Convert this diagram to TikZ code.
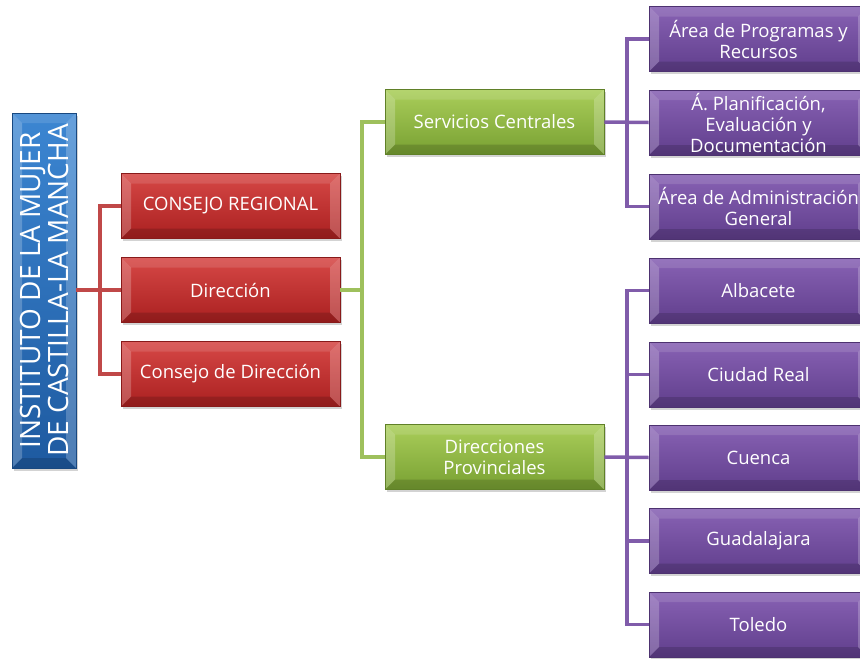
\documentclass[tikz,border=0pt]{standalone}
\usepackage{fontspec}
\setmainfont{Open Sans}
\usetikzlibrary{shadows,calc}
\definecolor{redA}{RGB}{214,72,70}
\definecolor{redB}{RGB}{170,32,32}
\definecolor{redL}{RGB}{192,72,72}
\definecolor{grnA}{RGB}{170,206,90}
\definecolor{grnB}{RGB}{120,160,50}
\definecolor{grnL}{RGB}{158,192,92}
\definecolor{purA}{RGB}{136,98,180}
\definecolor{purB}{RGB}{96,62,140}
\definecolor{purL}{RGB}{128,92,170}
\definecolor{bluA}{RGB}{60,134,210}
\definecolor{bluB}{RGB}{30,90,160}
\tikzset{
  bevel/.style={path picture={
    \fill[white,opacity=0.22] (path picture bounding box.north west) -- ++(10,10) -- ($(path picture bounding box.south west)+(10,-10)$) -- (path picture bounding box.south west) -- cycle;
    \fill[white,opacity=0.22] (path picture bounding box.north east) -- ++(-10,10) -- ($(path picture bounding box.south east)+(-10,-10)$) -- (path picture bounding box.south east) -- cycle;
    \fill[white,opacity=0.12] (path picture bounding box.north west) -- ++(10,10) -- ($(path picture bounding box.north east)+(-10,10)$) -- (path picture bounding box.north east) -- cycle;
    \fill[black,opacity=0.15] (path picture bounding box.south west) -- ++(10,-10) -- ($(path picture bounding box.south east)+(-10,-10)$) -- (path picture bounding box.south east) -- cycle;
  }},
  box/.style={minimum width=219pt, minimum height=65pt, inner sep=2pt, align=center,
    text=white, font=\fontsize{18.5}{21}\selectfont, bevel,
    drop shadow={shadow xshift=2pt, shadow yshift=-2.5pt, opacity=0.35}},
  redbox/.style={box, top color=redA, bottom color=redB, draw=redB!80!black, line width=0.6pt},
  grnbox/.style={box, top color=grnA, bottom color=grnB, draw=grnB!80!black, line width=0.6pt},
  purbox/.style={box, top color=purA, bottom color=purB, draw=purB!80!black, line width=0.6pt},
  redln/.style={draw=redL, line width=3.5pt},
  grnln/.style={draw=grnL, line width=3.5pt},
  purln/.style={draw=purL, line width=3.5pt},
}
\begin{document}
\begin{tikzpicture}[x=1pt,y=-1pt]
\useasboundingbox (0,0) rectangle (860,659);
\begin{scope}
\clip (0,0) rectangle (860,659);
% title
\node[minimum width=64pt, minimum height=355pt, top color=bluA, bottom color=bluB, draw=bluB!80!black, line width=0.6pt, bevel,
  drop shadow={shadow xshift=2pt, shadow yshift=-2.5pt, opacity=0.35}] (inst) at (44,290.5) {};
\node[rotate=90, align=center, text=white, font=\fontsize{28}{28}\selectfont] (insttxt) at (inst.center) {INSTITUTO DE LA MUJER\\DE CASTILLA-LA MANCHA};
% red
\node[redbox] (crg) at (230.5,206) {CONSEJO REGIONAL};
\node[redbox] (dir) at (230.5,290) {Dirección};
\node[redbox] (cdd) at (230.5,374) {Consejo de Dirección};
% green
\node[grnbox] (sc) at (494.5,122) {Servicios Centrales};
\node[grnbox] (dp) at (494.5,457) {Direcciones\\Provinciales};
% purple
\node[purbox] (apr) at (758.5,39) {Área de Programas y\\Recursos};
\node[purbox] (apl) at (758.5,122.5) {Á. Planificación,\\Evaluación y\\Documentación};
\node[purbox] (aad) at (758.5,206.5) {Área de Administración\\General};
\node[purbox] (alb) at (758.5,290.5) {Albacete};
\node[purbox] (cre) at (758.5,374.5) {Ciudad Real};
\node[purbox] (cue) at (758.5,457.5) {Cuenca};
\node[purbox] (gua) at (758.5,541) {Guadalajara};
\node[purbox] (tol) at (758.5,624.5) {Toledo};
% junctions
\coordinate (rj) at (100,290);
\coordinate (gj) at (362,290);
\coordinate (pj1) at (627,122);
\coordinate (pj2) at (627,457);
% connectors
\draw[redln] (inst.east |- rj) -- (dir.west);
\draw[redln] (crg.west) -| (rj) |- (cdd.west);
\draw[grnln] (dir.east) -- (gj);
\draw[grnln] (sc.west) -| (gj) |- (dp.west);
\draw[purln] (sc.east) -- (apl.west);
\draw[purln] (apr.west) -| (pj1) |- (aad.west);
\draw[purln] (dp.east) -- (cue.west);
\draw[purln] (alb.west) -| (pj2) |- (tol.west);
\draw[purln] (cre.west) -- (cre.west -| pj2);
\draw[purln] (gua.west) -- (gua.west -| pj2);
\end{scope}
\end{tikzpicture}
\end{document}
